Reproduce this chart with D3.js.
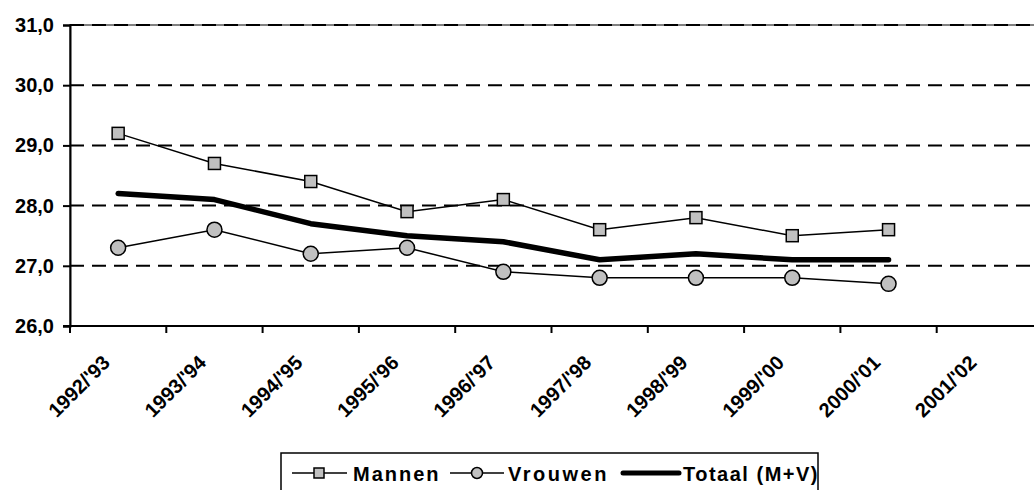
<!DOCTYPE html>
<html>
<head>
<meta charset="utf-8">
<script src="https://cdn.jsdelivr.net/npm/d3@7"></script>
<style>
  html, body { margin: 0; padding: 0; background: #fff; }
  svg { display: block; font-family: Arial, "Liberation Sans", sans-serif; }
</style>
</head>
<body>
<svg id="chart" width="1034" height="490"></svg>
<script>
// ---- data ----
const categories = ["1992/'93", "1993/'94", "1994/'95", "1995/'96", "1996/'97", "1997/'98", "1998/'99", "1999/'00", "2000/'01", "2001/'02"];
const mannen  = [29.2, 28.7, 28.4, 27.9, 28.1, 27.6, 27.8, 27.5, 27.6];
const vrouwen = [27.3, 27.6, 27.2, 27.3, 26.9, 26.8, 26.8, 26.8, 26.7];
const totaal  = [28.2, 28.1, 27.7, 27.5, 27.4, 27.1, 27.2, 27.1, 27.1];
const yTicks  = [26, 27, 28, 29, 30, 31];
const seriesNames = ["Mannen", "Vrouwen", "Totaal (M+V)"];

// ---- layout ----
const svg = d3.select("#chart");
const pLeft = 70, pRight = 1033, pTop = 25, pBottom = 326;

const x = d3.scaleBand().domain(categories).range([pLeft, pRight]).paddingInner(0).paddingOuter(0);
const y = d3.scaleLinear().domain([26, 31]).range([pBottom, pTop]);
const fmt = v => d3.format(".1f")(v).replace(".", ",");

// plot border (grey)
svg.append("rect")
  .attr("x", pLeft).attr("y", pTop)
  .attr("width", pRight - pLeft + 4).attr("height", pBottom - pTop)
  .attr("fill", "none").attr("stroke", "#808080").attr("stroke-width", 2);

// gridlines
svg.append("g").selectAll("line")
  .data(yTicks.filter(t => t > 26))
  .join("line")
  .attr("x1", pLeft).attr("x2", 1034)
  .attr("y1", d => y(d)).attr("y2", d => y(d))
  .attr("stroke", "#000").attr("stroke-width", 2)
  .attr("stroke-dasharray", "14,8");

// y axis
const yAxis = d3.axisLeft(y).tickValues(yTicks).tickFormat(fmt).tickSize(7).tickPadding(9);
const gy = svg.append("g").attr("transform", `translate(${pLeft},0)`).call(yAxis);
gy.select(".domain").attr("stroke", "#000").attr("stroke-width", 2);
gy.selectAll(".tick line").attr("stroke", "#000").attr("stroke-width", 2);
gy.selectAll(".tick text")
  .attr("font-size", 20).attr("font-weight", "bold").attr("fill", "#000")
  .attr("font-family", "Arial, 'Liberation Sans', sans-serif");

// x axis line + ticks at category boundaries
svg.append("line").attr("x1", pLeft - 7).attr("x2", 1034)
  .attr("y1", pBottom).attr("y2", pBottom)
  .attr("stroke", "#000").attr("stroke-width", 2);
svg.append("g").selectAll("line")
  .data(categories.slice(1))
  .join("line")
  .attr("x1", d => x(d)).attr("x2", d => x(d))
  .attr("y1", pBottom).attr("y2", pBottom + 7)
  .attr("stroke", "#000").attr("stroke-width", 2);
svg.append("line").attr("x1", pLeft).attr("x2", pLeft)
  .attr("y1", pBottom).attr("y2", pBottom + 7)
  .attr("stroke", "#000").attr("stroke-width", 2);

// x labels
svg.append("g").selectAll("text")
  .data(categories)
  .join("text")
  .attr("transform", d => `translate(${x(d) + x.bandwidth() / 2 - 7},${pBottom + 38}) rotate(-45)`)
  .attr("text-anchor", "end")
  .attr("font-size", 20).attr("font-weight", "bold")
  .text(d => d);

const cx = (d, i) => x(categories[i]) + x.bandwidth() / 2;
const line = arr => d3.line().x((d, i) => cx(d, i)).y(d => y(d))(arr);

// Totaal
svg.append("path").attr("d", line(totaal))
  .attr("fill", "none").attr("stroke", "#000").attr("stroke-width", 5.5)
  .attr("stroke-linecap", "round").attr("stroke-linejoin", "round");

// Mannen
svg.append("path").attr("d", line(mannen))
  .attr("fill", "none").attr("stroke", "#000").attr("stroke-width", 1.5);
svg.append("g").selectAll("rect")
  .data(mannen).join("rect")
  .attr("x", (d, i) => cx(d, i) - 6).attr("y", d => y(d) - 6)
  .attr("width", 12).attr("height", 12)
  .attr("fill", "#c0c0c0").attr("stroke", "#000").attr("stroke-width", 1.5);

// Vrouwen
svg.append("path").attr("d", line(vrouwen))
  .attr("fill", "none").attr("stroke", "#000").attr("stroke-width", 1.5);
svg.append("g").selectAll("circle")
  .data(vrouwen).join("circle")
  .attr("cx", (d, i) => cx(d, i)).attr("cy", d => y(d))
  .attr("r", 7.5)
  .attr("fill", "#c0c0c0").attr("stroke", "#000").attr("stroke-width", 1.5);

// legend
const lg = svg.append("g");
lg.append("rect").attr("x", 281).attr("y", 453).attr("width", 537).attr("height", 50)
  .attr("fill", "#fff").attr("stroke", "#000").attr("stroke-width", 1.5);
const ly = 473, lty = 481;
// Mannen
lg.append("line").attr("x1", 292).attr("x2", 347).attr("y1", ly).attr("y2", ly)
  .attr("stroke", "#000").attr("stroke-width", 1.5);
lg.append("rect").attr("x", 314).attr("y", ly - 5).attr("width", 10).attr("height", 10)
  .attr("fill", "#c0c0c0").attr("stroke", "#000").attr("stroke-width", 1.5);
// Vrouwen
lg.append("line").attr("x1", 450).attr("x2", 504).attr("y1", ly).attr("y2", ly)
  .attr("stroke", "#000").attr("stroke-width", 1.5);
lg.append("circle").attr("cx", 477).attr("cy", ly).attr("r", 5.5)
  .attr("fill", "#c0c0c0").attr("stroke", "#000").attr("stroke-width", 1.5);
// Totaal
lg.append("line").attr("x1", 623).attr("x2", 679).attr("y1", ly).attr("y2", ly)
  .attr("stroke", "#000").attr("stroke-width", 5)
  .attr("stroke-linecap", "round");
const textX = [353, 508, 683];
const textSpacing = [2, 2.5, 1.5];
lg.selectAll("text.lt").data(seriesNames).join("text")
  .attr("class", "lt")
  .attr("x", (d, i) => textX[i]).attr("y", lty)
  .attr("font-size", 20).attr("font-weight", "bold")
  .attr("letter-spacing", (d, i) => textSpacing[i])
  .text(d => d);
</script>
</body>
</html>
